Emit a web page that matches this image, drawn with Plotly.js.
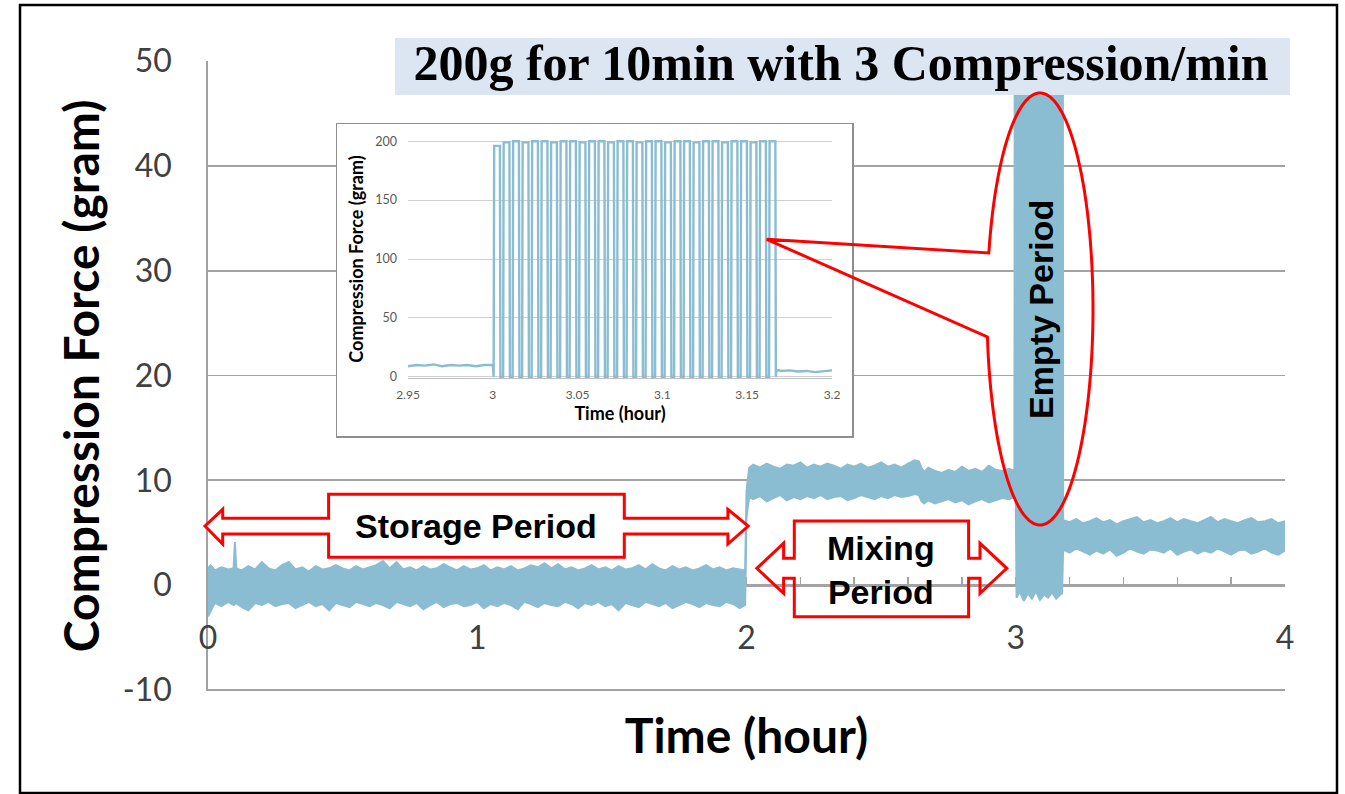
<!DOCTYPE html>
<html><head><meta charset="utf-8">
<script src="https://cdn.plot.ly/plotly-3.0.1.min.js"></script>
<style>html,body{margin:0;padding:0;background:#fff}#chart{width:1345px;height:794px}</style>
</head><body><div id="chart"></div>
<script>
// ---------------- main chart data (hours, grams): band envelope ----------------
const storageT  = [0.000,0.010,0.025,0.050,0.075,0.095,0.100,0.105,
  0.125,0.150,0.175,0.200,0.225,0.250,0.275,0.300,0.325,0.350,
  0.375,0.400,0.425,0.450,0.475,0.500,0.525,0.550,0.575,0.600,
  0.625,0.650,0.675,0.700,0.725,0.750,0.775,0.800,0.825,0.850,
  0.875,0.900,0.925,0.950,0.975,1.000,1.025,1.050,1.075,1.100,
  1.125,1.150,1.175,1.200,1.225,1.250,1.275,1.300,1.325,1.350,
  1.375,1.400,1.425,1.450,1.475,1.500,1.525,1.550,1.575,1.600,
  1.625,1.650,1.675,1.700,1.725,1.750,1.775,1.800,1.825,1.850,
  1.875,1.900,1.925,1.950,1.975,1.995];
const storageHi = [1.6,1.9,1.4,1.7,1.5,1.6,4.1,1.6,
  1.4,1.8,1.5,2.2,1.6,1.4,1.9,2.2,1.5,1.7,
  1.3,1.8,1.5,1.6,1.9,1.6,1.4,1.8,1.5,1.7,
  1.9,2.3,1.6,2.2,1.5,1.7,1.4,1.8,1.5,1.6,
  2.0,1.7,1.4,1.8,1.5,1.6,1.9,1.4,1.7,1.5,
  1.8,1.4,1.6,1.9,1.7,2.1,1.6,2.0,1.5,1.7,
  1.4,1.6,1.9,1.5,1.7,1.4,1.8,1.5,1.6,1.9,
  1.5,2.0,1.6,1.4,1.8,1.5,1.7,1.4,1.6,1.9,
  1.5,1.7,1.4,1.6,1.5,1.4];
const storageLo = [-3.0,-2.5,-1.7,-2.0,-1.6,-1.9,-1.8,-1.7,
  -2.1,-2.4,-1.7,-1.9,-1.6,-2.0,-1.8,-1.7,-2.2,-1.9,
  -1.6,-2.0,-1.8,-2.4,-1.7,-1.9,-2.1,-1.6,-1.8,-2.0,
  -1.7,-1.9,-2.2,-1.6,-1.8,-2.0,-1.7,-2.3,-1.9,-1.6,
  -2.1,-1.8,-1.7,-2.0,-1.9,-1.6,-2.2,-1.8,-2.0,-1.7,
  -1.9,-2.3,-1.6,-1.8,-2.1,-1.7,-1.9,-2.0,-1.6,-1.8,
  -2.2,-1.7,-1.9,-1.6,-2.0,-1.8,-2.4,-1.7,-1.9,-2.1,
  -1.6,-1.8,-2.0,-1.7,-2.2,-1.9,-1.6,-1.8,-2.1,-1.7,
  -1.9,-2.0,-1.6,-1.8,-2.2,-1.9];

const mixT  = [2.000,2.010,
  2.025,2.050,2.075,2.100,2.125,2.150,2.175,2.200,2.225,2.250,2.275,2.300,2.325,
  2.350,2.375,2.400,2.425,2.450,2.475,2.500,2.525,2.550,2.575,2.600,2.625,
  2.640,2.650,2.660,
  2.675,2.700,2.725,2.750,2.775,2.800,2.825,2.850,2.875,2.900,2.925,2.950,2.975,2.995];
const mixHi = [9.0,11.2,
  11.5,11.2,11.6,11.3,11.1,11.5,11.4,11.7,11.2,11.5,11.3,11.6,11.4,
  11.1,11.5,11.3,11.6,11.2,11.4,11.7,11.3,11.5,11.2,11.6,11.9,
  11.8,11.2,10.8,
  11.2,10.9,10.7,11.0,10.8,11.3,10.9,11.1,10.8,11.4,11.0,10.9,11.1,10.9];
const mixLo = [6.5,8.4,
  8.2,8.5,8.0,8.3,8.6,8.1,8.4,8.2,8.5,8.3,8.6,8.2,8.4,
  8.5,8.1,8.3,8.6,8.4,8.2,8.5,8.3,8.6,8.4,8.5,8.7,
  8.6,8.0,7.8,
  8.1,7.8,8.0,8.2,7.9,8.1,7.7,8.0,8.2,7.9,8.1,8.3,8.2,8.4];

const emptyT  = [3.000,3.003,3.015,3.030,3.045,3.060,3.075,3.090,3.105,3.120,3.135,3.150,3.165,3.172];
const emptyHi = [200,200,200,200,200,200,200,200,200,200,200,200,200,200];
const emptyLo = [8.0,-1.2,-0.6,-1.5,-0.8,-1.3,-0.6,-1.4,-0.9,-1.2,-0.7,-1.3,-0.9,-0.8];

const postT  = [3.176,3.200,3.225,3.250,3.275,3.300,3.325,3.350,3.375,3.400,3.425,3.450,3.475,3.500,3.525,3.550,3.575,
  3.600,3.625,3.650,3.675,3.700,3.725,3.750,3.775,3.800,3.825,3.850,3.875,3.900,3.925,3.950,3.975,4.000];
const postHi = [6.2,6.0,6.3,5.9,6.1,6.4,6.0,6.2,5.8,6.1,6.3,6.5,6.0,6.2,5.9,6.1,6.4,
  6.0,6.3,6.1,5.9,6.2,6.5,6.0,6.3,6.1,5.9,6.2,6.4,6.0,6.1,6.3,5.9,6.1];
const postLo = [3.4,3.1,3.5,3.2,2.9,3.3,3.0,3.4,2.8,3.1,3.5,3.2,3.0,3.4,3.3,3.1,3.5,
  2.9,3.2,3.4,3.0,3.3,3.1,3.5,3.2,2.9,3.3,3.4,3.0,3.2,3.5,3.1,2.9,3.3];

const mainYTicks  = [-10,0,10,20,30,40,50];
const mainYLabels = ['-10','0','10','20','30','40','50'];
const mainXTicks  = [0,1,2,3,4];

// ---------------- inset data ----------------
const insetPreT  = [2.950,2.955,2.960,2.965,2.970,2.975,2.980,2.985,2.990,2.995,3.000];
const insetPreF  = [9.0,10.0,9.5,10.5,9.0,10.0,9.5,10.0,9.0,10.0,10.0];
const pulseRise  = [3.0005,3.0061,3.0117,3.0173,3.0229,3.0285,3.0341,3.0397,3.0453,3.0509,3.0565,3.0621,3.0677,3.0733,3.0789,3.0845,3.0901,3.0957,3.1013,3.1069,3.1125,3.1181,3.1237,3.1293,3.1349,3.1405,3.1461,3.1517,3.1573,3.1629];
const pulseFall  = [3.0045,3.0101,3.0157,3.0213,3.0269,3.0325,3.0381,3.0437,3.0493,3.0549,3.0605,3.0661,3.0717,3.0773,3.0829,3.0885,3.0941,3.0997,3.1053,3.1109,3.1165,3.1221,3.1277,3.1333,3.1389,3.1445,3.1501,3.1557,3.1613,3.1669];
const pulsePeak  = [196,199,200,199,200,200,199,200,200,199,200,200,199,200,200,199,200,200,199,200,200,199,200,200,199,200,200,199,200,200];
const insetPostT = [3.1672,3.170,3.175,3.180,3.185,3.190,3.195,3.200];
const insetPostF = [6.0,5.0,5.5,4.5,5.0,4.0,5.0,5.5];
const insetXTicks  = [2.95,3,3.05,3.1,3.15,3.2];
const insetXLabels = ['2.95','3','3.05','3.1','3.15','3.2'];
const insetYTicks  = [0,50,100,150,200];

// ---------------- build tables ----------------
const allT  = storageT.concat(mixT, emptyT, postT);
const allHi = storageHi.concat(mixHi, emptyHi, postHi);
const allLo = storageLo.concat(mixLo, emptyLo, postLo);

const ix = insetPreT.slice(), iy = insetPreF.slice();
ix.push(3.0002); iy.push(0);
for (let k = 0; k < pulseRise.length; k++) {
  ix.push(pulseRise[k], pulseRise[k] + 0.0003, pulseFall[k] - 0.0003, pulseFall[k]);
  iy.push(0, pulsePeak[k], pulsePeak[k], 0);
}
insetPostT.forEach((t, i) => { ix.push(t); iy.push(insetPostF[i]); });

const BLUE = '#8bbdd2';
const GRID = '#a3a3a3';

// ---------------- geometry helpers (pixels -> paper) ----------------
const L = 208, R = 1285, T = 61, B = 691;
const X = px => (px - L) / (R - L);
const Y = py => (B - py) / (B - T);
const P = pts => 'M ' + pts.map(p => X(p[0]).toFixed(5) + ',' + Y(p[1]).toFixed(5)).join(' L ') + ' Z';

const storagePath = P([[205,526],[222.7,509.3],[222.7,518.3],[328.6,518.3],[328.6,494.3],[624.3,494.3],[624.3,518.3],[727.9,518.3],[727.9,509.3],[748.2,526],[727.9,544],[727.9,534],[624.3,534],[624.3,557.3],[328.6,557.3],[328.6,534],[222.7,534],[222.7,544]]);
const mixingPath = P([[756.8,568.3],[783.6,543.3],[783.6,558.3],[794.3,558.3],[794.3,521],[968.6,521],[968.6,558.3],[980,558.3],[980,543.3],[1006.8,568.3],[980,593.3],[980,578.3],[968.6,578.3],[968.6,616.7],[794.3,616.7],[794.3,578.3],[783.6,578.3],[783.6,593.3]]);

// oval callout
const ecx = 1040, ecy = 309, ea = 53, eb = 216;
const th2 = Math.PI - Math.asin((337 - ecy) / eb);
const th1 = Math.PI + Math.asin((ecy - 253) / eb) - 2 * Math.PI;
const ell = [];
const N = 120;
for (let i = 0; i <= N; i++) {
  const th = th2 + (th1 - th2) * i / N;
  ell.push([ecx + ea * Math.cos(th), ecy + eb * Math.sin(th)]);
}
ell.push([766.7, 239.3]);
const ellipsePath = P(ell);

const data = [
  {x: allT, y: allLo, type: 'scatter', mode: 'lines', line: {color: BLUE, width: 2}, hoverinfo: 'skip', showlegend: false},
  {x: allT, y: allHi, type: 'scatter', mode: 'lines', fill: 'tonexty', fillcolor: BLUE, line: {color: BLUE, width: 2}, hoverinfo: 'skip', showlegend: false},
  {x: [], y: [], xaxis: 'x2', yaxis: 'y2', type: 'scatter', mode: 'lines', showlegend: false},
  {x: ix, y: iy, xaxis: 'x3', yaxis: 'y3', type: 'scatter', mode: 'lines', line: {color: BLUE, width: 2.4}, hoverinfo: 'skip', showlegend: false}
];

const layout = {
  width: 1345, height: 794,
  margin: {l: L, r: 1345 - R, t: T, b: 794 - B},
  paper_bgcolor: '#ffffff', plot_bgcolor: '#ffffff',
  showlegend: false,
  title: {
    text: '200g for 10min with 3 Compression/min',
    font: {family: 'Liberation Serif', size: 50, color: '#000000', weight: 'bold'},
    xref: 'paper', x: X(841), xanchor: 'center',
    yref: 'container', y: 1 - 62 / 794, yanchor: 'middle'
  },
  xaxis: {
    domain: [0, 1], range: [0, 4], anchor: 'free', position: 10.1 / 60.1, layer: 'below traces',
    tickvals: mainXTicks, ticks: 'inside', ticklen: 8, tickcolor: GRID, tickwidth: 1.5,
    minor: {dtick: 0.2, tick0: 0, ticks: 'inside', ticklen: 8, tickcolor: GRID, tickwidth: 1.5, showgrid: false},
    showgrid: false, zeroline: false, showline: true, linecolor: GRID, linewidth: 1.8,
    tickfont: {family: 'Lato', size: 32, color: '#404040'}, ticklabelstandoff: 24,
    title: {text: 'Time (hour)', font: {family: 'Lato', size: 48, color: '#000000', weight: 'bold'}, standoff: 64},
    fixedrange: true
  },
  yaxis: {
    domain: [0, 1], range: [-10.1, 50], anchor: 'x', tickvals: mainYTicks, ticktext: mainYLabels, layer: 'below traces',
    showgrid: true, gridcolor: GRID, gridwidth: 1.8, zeroline: false,
    showline: true, linecolor: GRID, linewidth: 1.8, ticks: '',
    tickfont: {family: 'Lato', size: 32, color: '#404040'}, ticklabelstandoff: 28,
    title: {text: 'Compression Force (gram)', font: {family: 'Lato', size: 48, color: '#000000', weight: 'bold'}, standoff: 8},
    fixedrange: true
  },
  xaxis2: {domain: [X(337), X(852)], anchor: 'y2', range: [0, 1], showgrid: false, zeroline: false, showticklabels: false, ticks: '', showline: true, mirror: true, linecolor: '#8f8f8f', linewidth: 1.5, fixedrange: true},
  yaxis2: {domain: [Y(436), Y(124)], anchor: 'x2', range: [0, 1], showgrid: false, zeroline: false, showticklabels: false, ticks: '', showline: true, mirror: true, linecolor: '#8f8f8f', linewidth: 1.5, fixedrange: true},
  xaxis3: {
    domain: [X(408), X(832)], anchor: 'y3', range: [2.95, 3.2],
    tickvals: insetXTicks, ticktext: insetXLabels, ticks: '',
    showgrid: false, zeroline: false, showline: true, linecolor: '#c0c0c0', linewidth: 1,
    tickfont: {family: 'Lato', size: 12, color: '#595959'}, ticklabelstandoff: 6,
    title: {text: 'Time (hour)', font: {family: 'Lato', size: 18, color: '#000000', weight: 'bold'}, standoff: 5},
    fixedrange: true
  },
  yaxis3: {
    domain: [Y(378), Y(140)], anchor: 'x3', range: [-1, 201], tickvals: insetYTicks, ticks: '',
    showgrid: true, gridcolor: '#d0d0d0', gridwidth: 1, zeroline: false, showline: false,
    tickfont: {family: 'Lato', size: 12.5, color: '#595959'}, ticklabelstandoff: 10,
    title: {text: 'Compression Force (gram)', font: {family: 'Lato', size: 18, color: '#000000', weight: 'bold'}, standoff: 6},
    fixedrange: true
  },
  shapes: [
    {type: 'rect', xref: 'paper', yref: 'paper', x0: X(395), x1: X(1290), y0: Y(95), y1: Y(38), fillcolor: '#dce6f2', line: {width: 0}, layer: 'above'},
    {type: 'path', xref: 'paper', yref: 'paper', path: storagePath, fillcolor: '#ffffff', line: {color: '#ff0000', width: 3}, layer: 'above'},
    {type: 'path', xref: 'paper', yref: 'paper', path: mixingPath, fillcolor: 'rgba(255,255,255,0)', line: {color: '#ff0000', width: 3}, layer: 'above'},
    {type: 'path', xref: 'paper', yref: 'paper', path: ellipsePath, fillcolor: 'rgba(255,255,255,0)', line: {color: '#ff0000', width: 3}, layer: 'above'},
    {type: 'rect', xref: 'paper', yref: 'paper', x0: X(20), x1: X(1337), y0: Y(793), y1: Y(5), line: {color: '#000000', width: 2.5}, layer: 'above'}
  ],
  annotations: [
    {xref: 'paper', yref: 'paper', x: X(476), y: Y(526), text: 'Storage Period', showarrow: false, xanchor: 'center', yanchor: 'middle', font: {family: 'Liberation Sans', size: 34, color: '#000000', weight: 'bold'}},
    {xref: 'paper', yref: 'paper', x: X(881), y: Y(570), text: 'Mixing<br>Period', showarrow: false, xanchor: 'center', yanchor: 'middle', font: {family: 'Liberation Sans', size: 34, color: '#000000', weight: 'bold'}},
    {xref: 'paper', yref: 'paper', x: X(1041), y: Y(310), text: 'Empty Period', textangle: -90, showarrow: false, xanchor: 'center', yanchor: 'middle', font: {family: 'Liberation Sans', size: 34, color: '#000000', weight: 'bold'}}
  ]
};

Plotly.newPlot('chart', data, layout, {staticPlot: true, displayModeBar: false});
</script></body></html>
